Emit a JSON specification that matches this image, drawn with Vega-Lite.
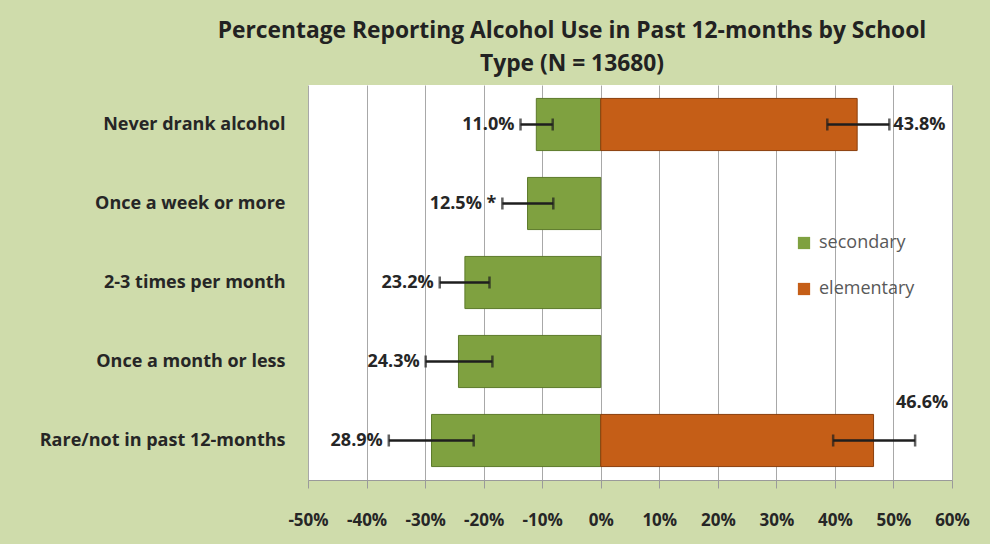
{
  "$schema": "https://vega.github.io/schema/vega-lite/v6.json",
  "width": 644,
  "height": 395,
  "autosize": {"type": "none"},
  "padding": {"left": 308, "top": 85, "right": 38, "bottom": 64},
  "background": "#cfdcab",
  "view": {"fill": "white", "stroke": null},
  "title": {
    "text": ["Percentage Reporting Alcohol Use in Past 12-months by School", "Type (N = 13680)"],
    "font": "Open Sans",
    "fontSize": 22.8,
    "fontWeight": "bold",
    "color": "#222222",
    "lineHeight": 33,
    "anchor": "middle",
    "frame": "group",
    "dx": -58,
    "offset": 9
  },
  "data": {
    "values": [
      {"cat": "Never drank alcohol", "type": "secondary", "value": -11.0, "lo": -13.7, "hi": -8.2, "label": "11.0%"},
      {"cat": "Once a week or more", "type": "secondary", "value": -12.5, "lo": -16.8, "hi": -8.1, "label": "12.5% *"},
      {"cat": "2-3 times per month", "type": "secondary", "value": -23.2, "lo": -27.5, "hi": -19.0, "label": "23.2%"},
      {"cat": "Once a month or less", "type": "secondary", "value": -24.3, "lo": -29.9, "hi": -18.5, "label": "24.3%"},
      {"cat": "Rare/not in past 12-months", "type": "secondary", "value": -28.9, "lo": -36.2, "hi": -21.7, "label": "28.9%"},
      {"cat": "Never drank alcohol", "type": "elementary", "value": 43.8, "lo": 38.7, "hi": 49.3, "label": "43.8%"},
      {"cat": "Rare/not in past 12-months", "type": "elementary", "value": 46.6, "lo": 39.7, "hi": 53.7, "label": "46.6%"}
    ]
  },
  "encoding": {
    "y": {
      "field": "cat",
      "type": "nominal",
      "sort": ["Never drank alcohol", "Once a week or more", "2-3 times per month", "Once a month or less", "Rare/not in past 12-months"],
      "scale": {"paddingInner": 0.34, "paddingOuter": 0.17},
      "axis": {
        "title": null,
        "domain": false,
        "ticks": false,
        "grid": false,
        "labelFont": "Open Sans",
        "labelFontSize": 18,
        "labelFontWeight": "bold",
        "labelColor": "#262626",
        "labelPadding": 23,
        "labelLimit": 400
      }
    }
  },
  "layer": [
    {
      "mark": {"type": "bar", "strokeWidth": 1},
      "encoding": {
        "x": {
          "field": "value",
          "type": "quantitative",
          "scale": {"domain": [-50, 60], "nice": false},
          "axis": {
            "title": null,
            "values": [-50, -40, -30, -20, -10, 0, 10, 20, 30, 40, 50, 60],
            "labelExpr": "datum.value + '%'",
            "grid": true,
            "gridColor": "#a8a8a8",
            "gridWidth": 1,
            "domainColor": "#9a9a9a",
            "tickColor": "#9a9a9a",
            "tickSize": 8,
            "labelFont": "Open Sans",
            "labelFontSize": 17,
            "labelFontWeight": "bold",
            "labelColor": "#262626",
            "labelPadding": 24,
            "labelFlush": false
          }
        },
        "color": {
          "field": "type",
          "type": "nominal",
          "scale": {"domain": ["secondary", "elementary"], "range": ["#7fa140", "#c55e17"]},
          "legend": {
            "title": null,
            "orient": "none",
            "legendX": 487,
            "legendY": 149,
            "symbolType": "square",
            "symbolSize": 150,
            "symbolStrokeWidth": 0,
            "rowPadding": 28,
            "labelOffset": 6,
            "labelFont": "Open Sans",
            "labelFontSize": 18,
            "labelColor": "#595959"
          }
        },
        "stroke": {
          "field": "type",
          "type": "nominal",
          "scale": {"domain": ["secondary", "elementary"], "range": ["#5c7a2a", "#8a3e0c"]},
          "legend": null
        }
      }
    },
    {
      "mark": {
        "type": "errorbar",
        "ticks": {"color": "#1e1e1e", "size": 12, "thickness": 2.5},
        "rule": {"color": "#1e1e1e", "strokeWidth": 2.5}
      },
      "encoding": {
        "x": {"field": "lo", "type": "quantitative", "title": null},
        "x2": {"field": "hi"}
      }
    },
    {
      "transform": [{"filter": "datum.type === 'secondary'"}],
      "mark": {"type": "text", "align": "right", "baseline": "middle", "dx": -6, "font": "Open Sans", "fontSize": 18, "fontWeight": "bold", "color": "#262626"},
      "encoding": {
        "x": {"field": "lo", "type": "quantitative"},
        "text": {"field": "label"}
      }
    },
    {
      "transform": [{"filter": "datum.type === 'elementary' && datum.cat === 'Never drank alcohol'"}],
      "mark": {"type": "text", "align": "left", "baseline": "middle", "dx": 4, "font": "Open Sans", "fontSize": 18, "fontWeight": "bold", "color": "#262626"},
      "encoding": {
        "x": {"field": "hi", "type": "quantitative"},
        "text": {"field": "label"}
      }
    },
    {
      "transform": [{"filter": "datum.type === 'elementary' && datum.cat === 'Rare/not in past 12-months'"}],
      "mark": {"type": "text", "align": "center", "baseline": "middle", "dy": -38, "dx": 7, "font": "Open Sans", "fontSize": 18, "fontWeight": "bold", "color": "#262626"},
      "encoding": {
        "x": {"field": "hi", "type": "quantitative"},
        "text": {"field": "label"}
      }
    }
  ]
}
